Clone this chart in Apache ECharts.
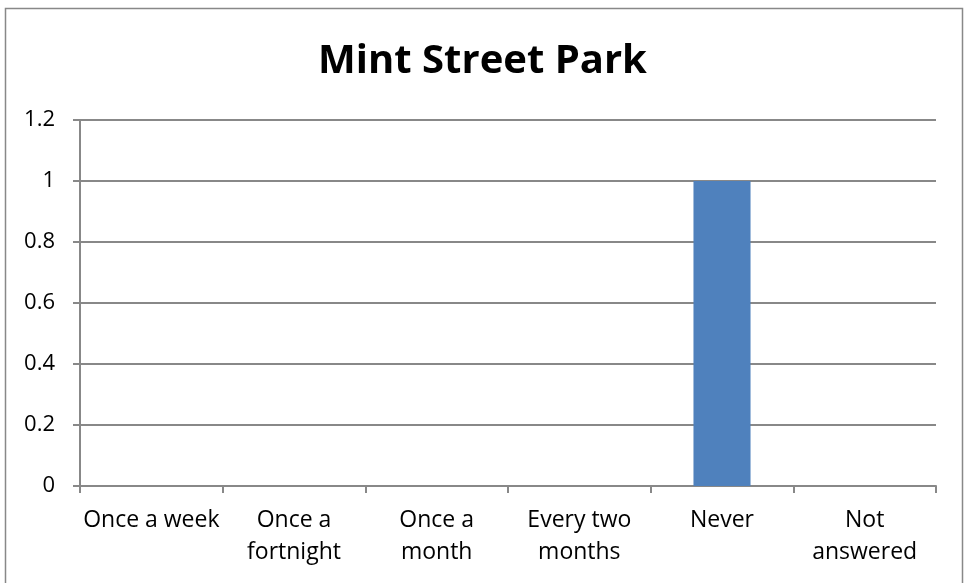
<!DOCTYPE html>
<html><head><meta charset="utf-8">
<script src="https://cdn.jsdelivr.net/npm/echarts@6/dist/echarts.min.js"></script>
<style>html,body{margin:0;padding:0;background:#fff;}#c{width:965px;height:583px;}</style>
</head><body><div id="c"></div>
<script>
const categories = ["Once a week", "Once a\nfortnight", "Once a\nmonth", "Every two\nmonths", "Never", "Not\nanswered"];
const values = [0, 0, 0, 0, 1, 0];
const yTicks = [0, 0.2, 0.4, 0.6, 0.8, 1, 1.2];
const titleText = "Mint Street Park";

const chart = echarts.init(document.getElementById('c'));
const font = "Open Sans";
chart.setOption({
  animation: false,
  backgroundColor: '#fff',
  title: {
    text: titleText, left: 'center', top: 37,
    textStyle: {fontFamily: font, fontWeight: 'bold', fontSize: 40, color: '#000'}
  },
  graphic: [{type: 'rect', shape: {x: 5.5, y: 8.5, width: 957, height: 620}, style: {fill: 'none', stroke: '#888', lineWidth: 1.5}, silent: true}],
  grid: {left: 80, right: 29, top: 120, bottom: 97, containLabel: false},
  xAxis: {
    type: 'category', data: categories,
    axisLine: {lineStyle: {color: '#888', width: 2}},
    axisTick: {show: true, length: 7, lineStyle: {color: '#888', width: 2}},
    axisLabel: {fontFamily: font, fontSize: 23, color: '#000', margin: 18, lineHeight: 32, interval: 0}
  },
  yAxis: {
    type: 'value', min: 0, max: 1.2, interval: 0.2,
    axisLine: {show: true, lineStyle: {color: '#888', width: 2}},
    axisTick: {show: true, length: 7, lineStyle: {color: '#888', width: 2}},
    splitLine: {lineStyle: {color: '#888', width: 2}},
    axisLabel: {fontFamily: font, fontSize: 22, color: '#000', margin: 25,
      formatter: v => yTicks.includes(Math.round(v*10)/10) ? String(Math.round(v*10)/10) : ''}
  },
  series: [{type: 'bar', data: values, barWidth: '40%', itemStyle: {color: '#4f81bd'}}]
});
</script></body></html>
